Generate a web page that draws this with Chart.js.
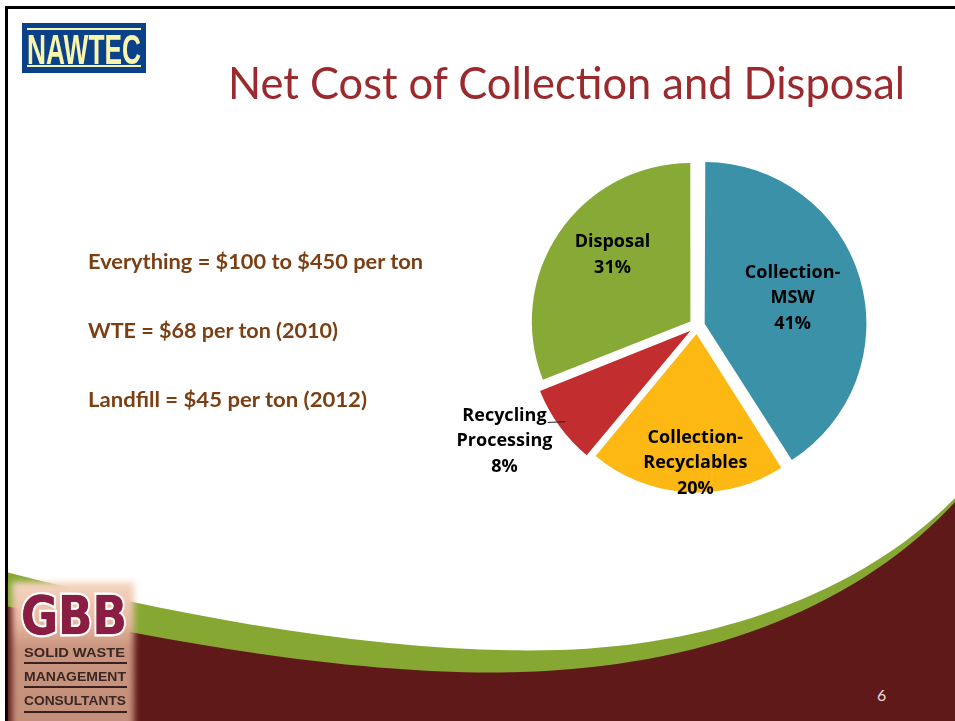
<!DOCTYPE html>
<html>
<head>
<meta charset="utf-8">
<script src="https://cdn.jsdelivr.net/npm/chart.js@4.4.1/dist/chart.umd.min.js"></script>
<style>
  html, body { margin: 0; padding: 0; background: #fff; }
  #slide { position: relative; width: 955px; height: 721px; overflow: hidden; background: #fff; }
  .abs { position: absolute; }
  .fit { white-space: nowrap; transform-origin: 0 0; line-height: 1;
         font-variant-ligatures: none; font-feature-settings: "liga" 0, "clig" 0, "dlig" 0, "calt" 0; }
  #title { left: 228px; top: 55px; font: 45px Lato, sans-serif; color: #9a2a2d; }
  .note { left: 88px; font: bold 21px Lato, sans-serif; color: #7b3f13; }
  #nawtec { left: 22px; top: 23px; width: 124px; height: 50px; background: #0b4189; }
  #nawtec .bar { position: absolute; left: 5px; right: 5px; height: 2px; background: #faf5ac; }
  #nawtec .txt { position: absolute; left: 5px; top: 3px; font: bold 42px "Liberation Sans Narrow", "Liberation Sans", sans-serif; color: #faf5ac; }
  #gbbBox { left: 12px; top: 582px; width: 122px; height: 150px; filter: blur(3px);
            background: linear-gradient(#f5d6c2 0px, #e9b9a0 40px, #c9957f 65px, #c48f7a 100%); }
  #gbb { left: 21px; top: 584px; font: bold 54px "DejaVu Sans", sans-serif; color: #8b1c42;
         -webkit-text-stroke: 5px #fff; paint-order: stroke fill; text-shadow: 0 0 1px #4d0d22; }
  .firm { left: 24px; font: bold 12px "Liberation Sans", Arial, sans-serif; color: #3a2622; }
  .rule { left: 24px; width: 103px; height: 2px; background: #3b1f1f; }
  #page { left: 877px; top: 685px; font: 16px Lato, sans-serif; color: #eddcdc; }
  #chartBox { left: 440px; top: 150px; width: 440px; height: 360px; }
</style>
</head>
<body>
<div id="slide">
  <svg class="abs" style="left:0;top:0" width="955" height="721">
    <path d="M6,572 C200,622 400,655 560,650 C720,645 865,590 955,498 L955,721 L6,721 Z" fill="#86a833"/>
    <path d="M6,606 C200,650 380,676 520,672 C700,667 855,610 955,502 L955,721 L6,721 Z" fill="#5f1919"/>
  </svg>
  <div class="abs" style="left:5px;top:6px;width:950px;height:3px;background:#000"></div>
  <div class="abs" style="left:5px;top:6px;width:3px;height:715px;background:#000"></div>

  <div id="nawtec" class="abs">
    <div class="bar" style="top:5px"></div>
    <div class="txt fit" data-w="114">NAWTEC</div>
    <div class="bar" style="top:42px"></div>
  </div>

  <div id="title" class="abs fit" data-w="677">Net Cost of Collection and Disposal</div>

  <div class="abs note fit" style="top:248px" data-w="335">Everything = $100 to $450 per ton</div>
  <div class="abs note fit" style="top:317px" data-w="250">WTE = $68 per ton (2010)</div>
  <div class="abs note fit" style="top:386px" data-w="279">Landfill = $45 per ton (2012)</div>

  <div id="gbbBox" class="abs"></div>
  <div id="gbb" class="abs fit" data-w="106">GBB</div>
  <div class="abs firm fit" style="top:646px" data-w="101">SOLID WASTE</div>
  <div class="abs rule" style="top:662px"></div>
  <div class="abs firm fit" style="top:670px" data-w="102">MANAGEMENT</div>
  <div class="abs rule" style="top:686px"></div>
  <div class="abs firm fit" style="top:694px" data-w="102">CONSULTANTS</div>
  <div class="abs rule" style="top:711px"></div>

  <div id="page" class="abs">6</div>

  <div id="chartBox" class="abs"><canvas id="pie"></canvas></div>
</div>

<script>
// chart values
const categories = ['Collection-MSW', 'Collection-Recyclables', 'Recycling Processing', 'Disposal'];
const labelLines = [['Collection-', 'MSW'], ['Collection-', 'Recyclables'], ['Recycling', 'Processing'], ['Disposal']];
const shares = [41, 20, 8, 31];
const sliceColors = ['#3a91a8', '#fdb813', '#c22d2f', '#86aa35'];

// where each label sits: fraction of radius along the slice middle, plus a nudge
const labelPlace = [
    { f: 0.63, dx: 0, dy: 0 },
    { f: 0.87, dx: 7, dy: 0 },
    { f: 1.42, dx: -11, dy: -17, leader: true },
    { f: 0.70, dx: 7, dy: -9 }
];

// stretch text boxes to the widths they have on the slide
document.querySelectorAll('.fit').forEach(el => {
    const w = el.getBoundingClientRect().width;
    const target = parseFloat(el.dataset.w);
    if (w > 0) el.style.transform = `scaleX(${target / w})`;
});

const sliceLabels = {
    id: 'sliceLabels',
    afterDatasetsDraw(chart) {
        const ctx = chart.ctx;
        const arcs = chart.getDatasetMeta(0).data;
        ctx.save();
        ctx.font = "bold 18px 'Open Sans', sans-serif";
        ctx.fillStyle = '#000';
        ctx.textAlign = 'center';
        ctx.textBaseline = 'middle';
        const lineH = 25.5;
        arcs.forEach((arc, i) => {
            const { x, y, startAngle, endAngle, outerRadius } = arc.getProps(['x', 'y', 'startAngle', 'endAngle', 'outerRadius'], true);
            const mid = (startAngle + endAngle) / 2;
            const place = labelPlace[i];
            const cx = x + Math.cos(mid) * outerRadius * place.f + place.dx;
            const cy = y + Math.sin(mid) * outerRadius * place.f + place.dy;
            const lines = [...labelLines[i], `${shares[i]}%`];
            const top = cy - (lines.length - 1) * lineH / 2;
            lines.forEach((t, k) => ctx.fillText(t, cx, top + k * lineH));
            if (place.leader) {
                const off = (arc.options.offset || 0) / 4;
                const w = ctx.measureText(lines[0]).width;
                ctx.strokeStyle = '#222';
                ctx.lineWidth = 1;
                ctx.beginPath();
                ctx.moveTo(cx + w / 2 + 1, top + 7);
                ctx.lineTo(x + Math.cos(mid) * (outerRadius + off - 3), y + Math.sin(mid) * (outerRadius + off - 3));
                ctx.stroke();
            }
        });
        ctx.restore();
    }
};

new Chart(document.getElementById('pie'), {
    type: 'pie',
    data: {
        labels: categories,
        datasets: [{
            data: shares,
            backgroundColor: sliceColors,
            borderWidth: 0,
            offset: 32,
            hoverOffset: 0
        }]
    },
    options: {
        responsive: true,
        maintainAspectRatio: false,
        animation: false,
        events: [],
        layout: { padding: { left: 83, right: 9, top: 2, bottom: 10 } },
        plugins: {
            legend: { display: false },
            tooltip: { enabled: false }
        }
    },
    plugins: [sliceLabels]
});
</script>
</body>
</html>
